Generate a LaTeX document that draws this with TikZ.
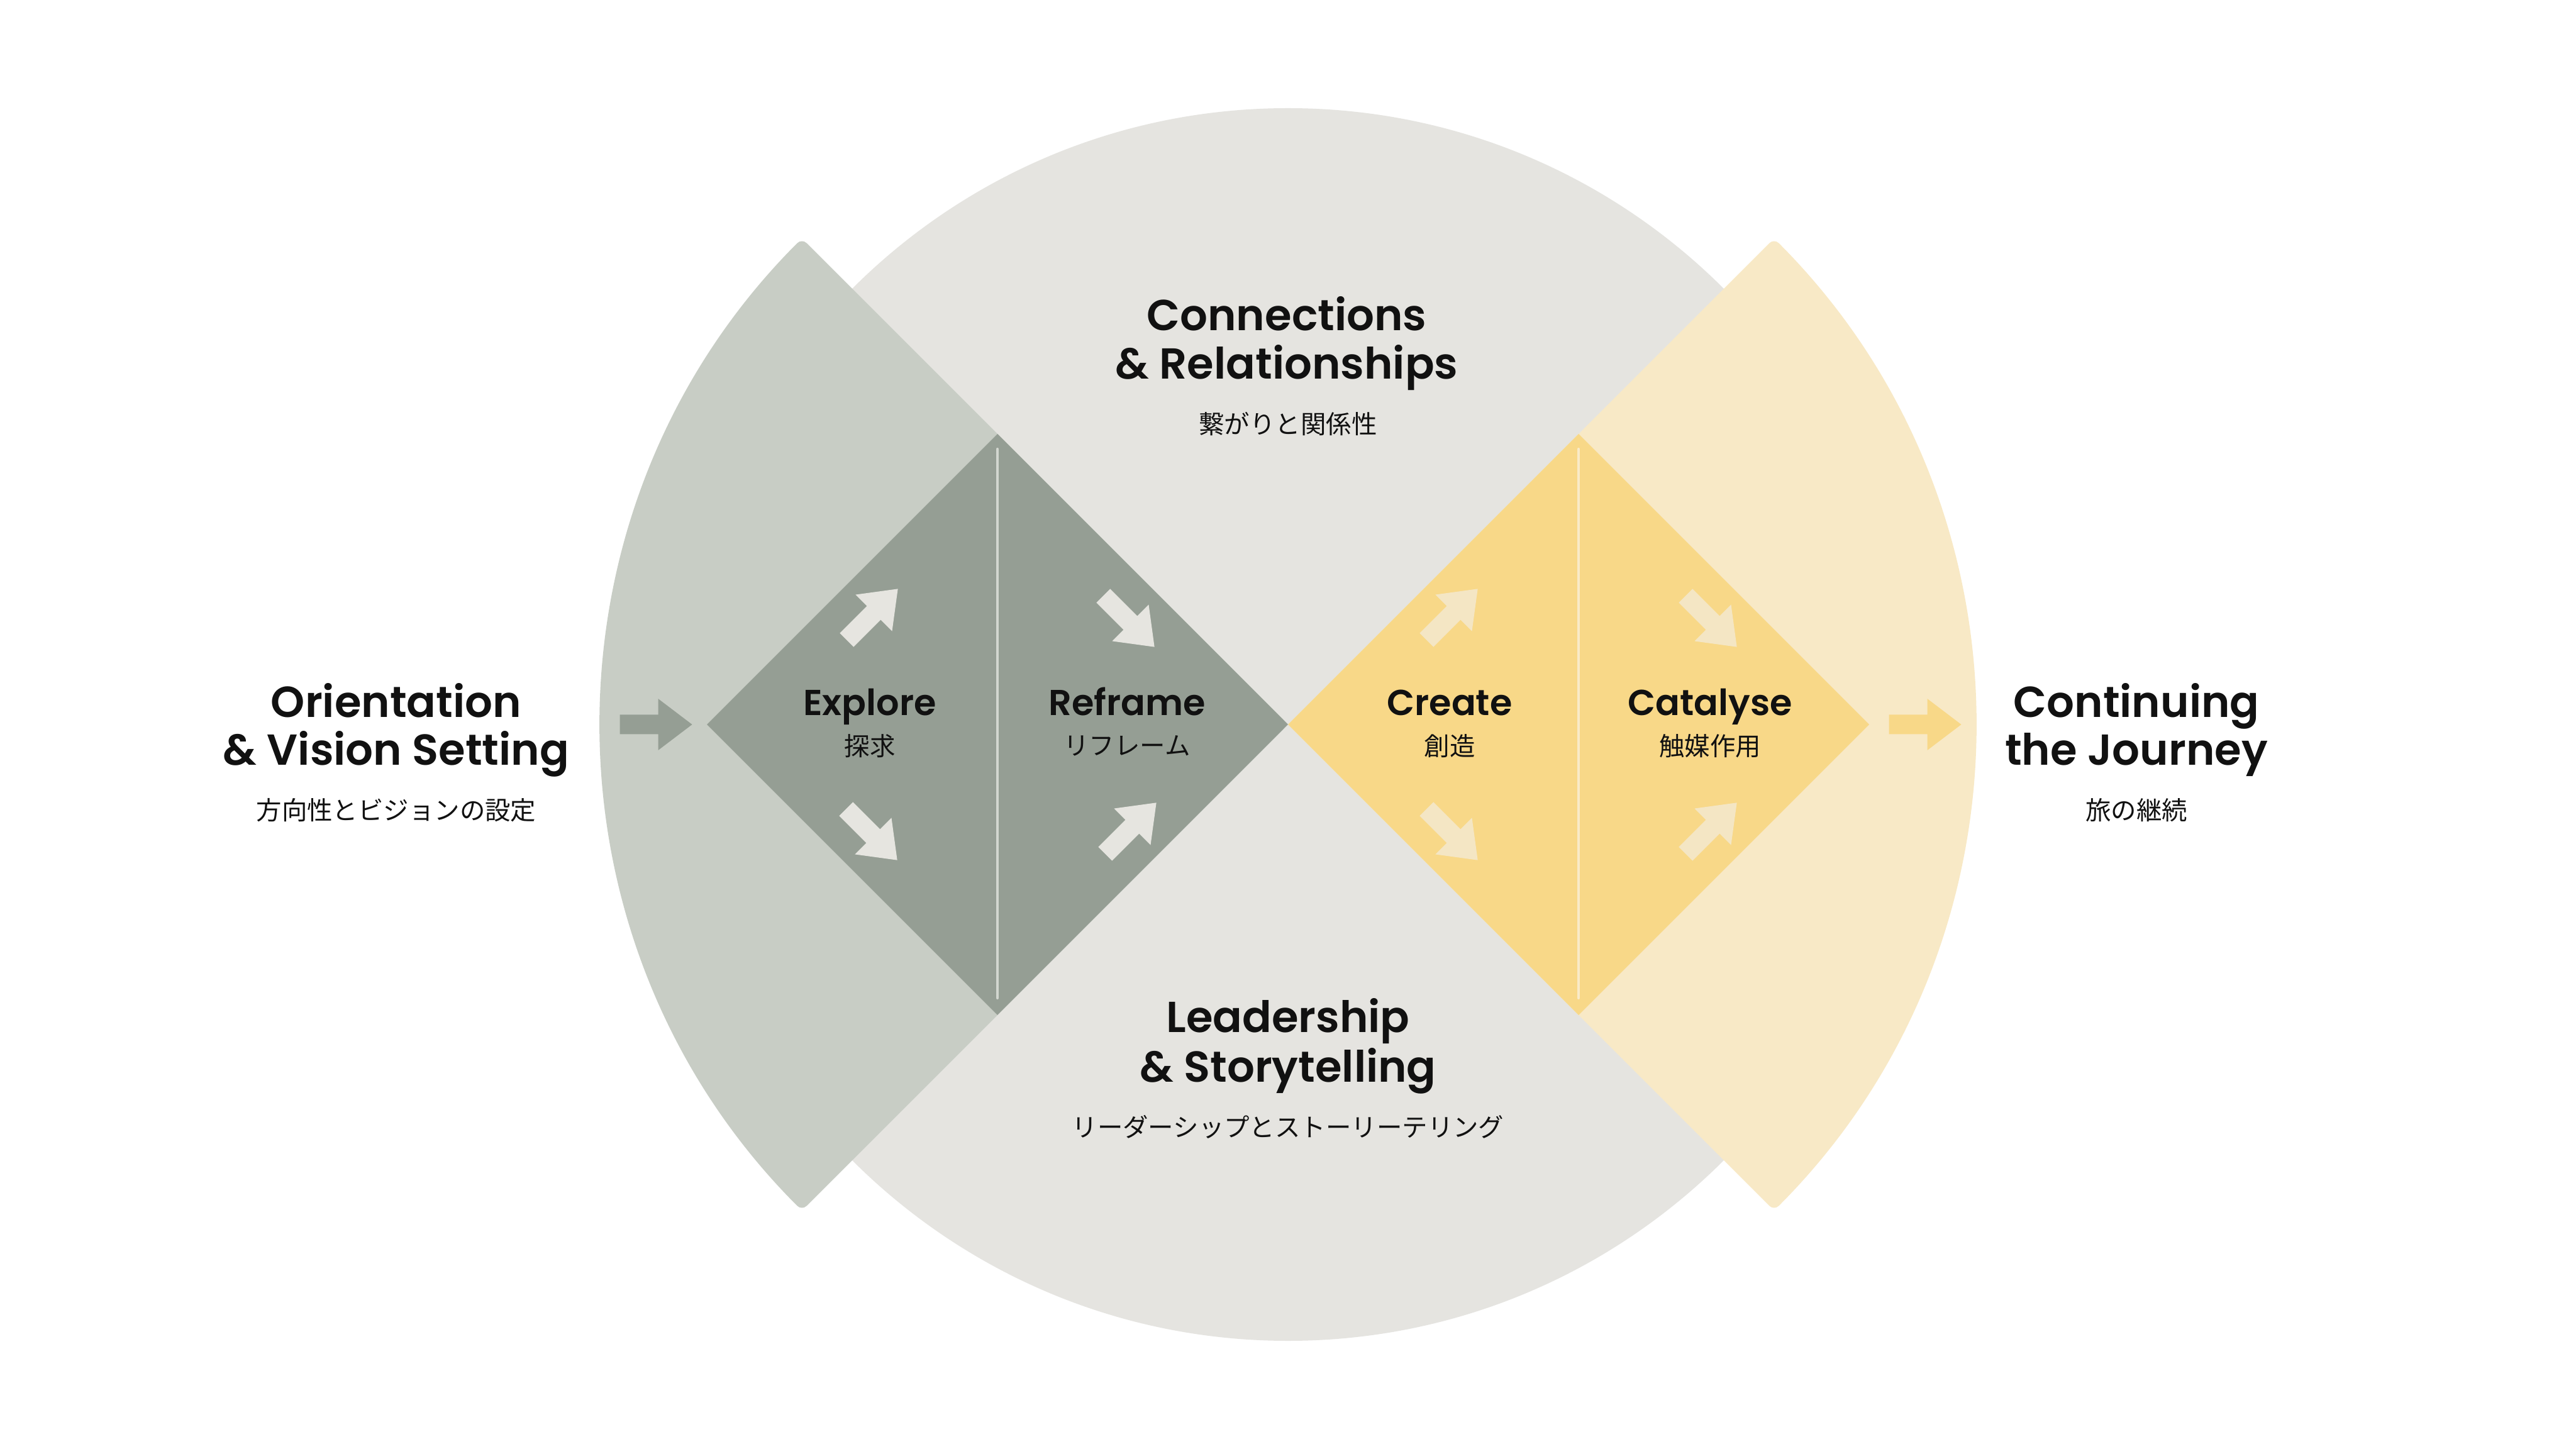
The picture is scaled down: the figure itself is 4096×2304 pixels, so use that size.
\documentclass[tikz,border=0pt]{standalone}
\usepackage{fontspec}
\setmainfont{Poppins}
\newfontfamily\hfont{Poppins SemiBold}
\newfontfamily\jfont{Noto Sans CJK JP}
\usetikzlibrary{shapes.geometric}
\definecolor{circlegray}{HTML}{E5E4E0}
\definecolor{sagelight}{HTML}{C8CDC5}
\definecolor{sagedark}{HTML}{959E94}
\definecolor{yellowlight}{HTML}{F8E9C6}
\definecolor{yellowdark}{HTML}{F8D888}
\definecolor{arrowsage}{HTML}{E6E5E0}
\definecolor{arrowyellow}{HTML}{F4E6C4}
\definecolor{linesage}{HTML}{D2D6CF}
\definecolor{lineyellow}{HTML}{F9EBC8}
\definecolor{ink}{HTML}{111111}
\begin{document}
\begin{tikzpicture}[x=0.01cm,y=0.01cm,
  blockarrow/.pic={\fill[pic actions] (-57.5,-15.5) -- (3.5,-15.5) -- (3.5,-41) -- (57.5,0) -- (3.5,41) -- (3.5,15.5) -- (-57.5,15.5) -- cycle;},
  headline/.style={font=\hfont\fontsize{19.6}{23}\selectfont, text=ink, anchor=base, inner sep=0pt},
  stagelabel/.style={font=\hfont\fontsize{16.3}{19}\selectfont, text=ink, anchor=base, inner sep=0pt},
  jplabel/.style={font=\jfont\fontsize{11.5}{14}\selectfont, text=ink, anchor=center, inner sep=0pt},
  phase/.style={diamond, shape aspect=1, minimum width=9.24cm, minimum height=9.24cm, inner sep=0pt},
  divider/.style={line width=1.2pt, line cap=round}
]
\useasboundingbox (0,0) rectangle (4096,-2304);
\fill[white] (0,0) rectangle (4096,-2304);

% background circle
\fill[circlegray] (2048,-1152) circle[radius=980];
% side sectors
\fill[sagelight, rounded corners=3pt] (2048,-1152) -- ++(135:1093) arc[start angle=135, end angle=225, radius=1093] -- cycle;
\fill[yellowlight, rounded corners=3pt] (2048,-1152) -- ++(-45:1093) arc[start angle=-45, end angle=45, radius=1093] -- cycle;

% diamonds
\node[phase, fill=sagedark] (left) at (1586,-1152) {};
\node[phase, fill=yellowdark] (right) at (2510,-1152) {};

% dividers
\draw[divider, linesage] (1586,-714) -- (1586,-1587);
\draw[divider, lineyellow] (2510,-714) -- (2510,-1587);

% small arrows
\pic[fill=arrowsage, rotate=45] at (1387,-977) {blockarrow};
\pic[fill=arrowsage, rotate=-45] at (1386,-1327) {blockarrow};
\pic[fill=arrowsage, rotate=-45] at (1795,-988) {blockarrow};
\pic[fill=arrowsage, rotate=45] at (1798,-1317) {blockarrow};
\pic[fill=arrowyellow, rotate=45] at (2309,-977) {blockarrow};
\pic[fill=arrowyellow, rotate=-45] at (2309,-1327) {blockarrow};
\pic[fill=arrowyellow, rotate=-45] at (2721,-988) {blockarrow};
\pic[fill=arrowyellow, rotate=45] at (2721,-1317) {blockarrow};

% entry / exit arrows
\pic[fill=sagedark] at (1043,-1152) {blockarrow};
\pic[fill=yellowdark] at (3061,-1152) {blockarrow};

% stage labels
\node[stagelabel] (explore) at (1383,-1138) {Explore};
\node[jplabel] (explorejp) at (1383,-1186) {探求};
\node[stagelabel] (reframe) at (1792,-1138) {Reframe};
\node[jplabel] (reframejp) at (1792,-1186) {リフレーム};
\node[stagelabel] (create) at (2305,-1138) {Create};
\node[jplabel] (createjp) at (2305,-1186) {創造};
\node[stagelabel] (catalyse) at (2719,-1138) {Catalyse};
\node[jplabel] (catalysejp) at (2719,-1186) {触媒作用};

% top
\node[headline] (conn1) at (2046,-526) {Connections};
\node[headline] (conn2) at (2046,-603) {\& Relationships};
\node[jplabel] (connjp) at (2048,-674) {繋がりと関係性};
% bottom
\node[headline] (lead1) at (2048,-1641) {Leadership};
\node[headline] (lead2) at (2048,-1720) {\& Storytelling};
\node[jplabel] (leadjp) at (2048,-1792) {リーダーシップとストーリーテリング};
% left
\node[headline] (orient1) at (630,-1140) {Orientation};
\node[headline] (orient2) at (630,-1217) {\& Vision Setting};
\node[jplabel] (orientjp) at (630,-1288) {方向性とビジョンの設定};
% right
\node[headline] (cont1) at (3397,-1140) {Continuing};
\node[headline] (cont2) at (3397,-1217) {the Journey};
\node[jplabel] (contjp) at (3397,-1288) {旅の継続};
\end{tikzpicture}
\end{document}
